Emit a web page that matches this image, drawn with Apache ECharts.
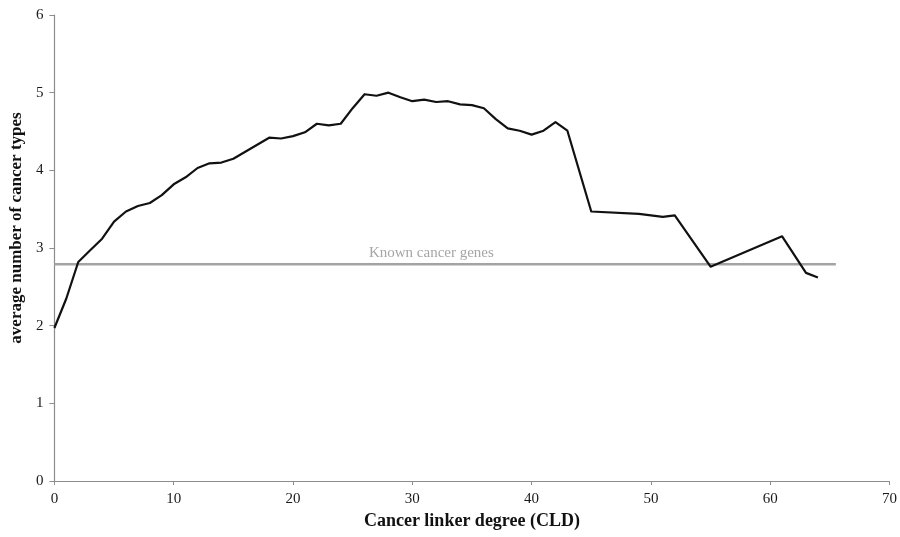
<!DOCTYPE html>
<html>
<head>
<meta charset="utf-8">
<script src="https://cdn.jsdelivr.net/npm/echarts@6/dist/echarts.min.js"></script>
<style>
  html, body { margin: 0; padding: 0; background: #fff; }
  #chart { width: 900px; height: 537px; }
</style>
</head>
<body>
<div id="chart"></div>
<script>
// Cancer linker degree (CLD) and the average number of cancer types per degree
const cld = [0, 1, 2, 3, 4, 5, 6, 7, 8, 9, 10, 11, 12, 13, 14, 15, 16, 17, 18, 19,
  20, 21, 22, 23, 24, 25, 26, 27, 28, 29, 30, 31, 32, 33, 34, 35, 36, 37, 38, 39,
  40, 41, 42, 43, 45, 49, 51, 52, 55, 61, 63, 64];
const avgTypes = [1.97, 2.35, 2.82, 2.97, 3.12, 3.34, 3.47, 3.54, 3.58, 3.68, 3.82, 3.91,
  4.03, 4.09, 4.10, 4.15, 4.24, 4.33, 4.42, 4.41, 4.44, 4.49, 4.60, 4.58, 4.60, 4.80,
  4.98, 4.96, 5.00, 4.94, 4.89, 4.91, 4.88, 4.89, 4.85, 4.84, 4.80, 4.66, 4.54, 4.51,
  4.46, 4.51, 4.62, 4.51, 3.47, 3.44, 3.40, 3.42, 2.76, 3.15, 2.68, 2.62];

// Reference level for known cancer genes
const knownLevel = 2.79;
const knownSpan = [0, 65.5];
const knownLabel = 'Known cancer genes';
const knownLabelAt = 31.6;

const xTicks = { min: 0, max: 70, interval: 10 };
const yTicks = { min: 0, max: 6, interval: 1 };

const serif = '"Liberation Serif", "DejaVu Serif", serif';
const axisGray = '#8c8c8c';

const chart = echarts.init(document.getElementById('chart'), null, { renderer: 'canvas' });

chart.setOption({
  animation: false,
  backgroundColor: '#ffffff',
  grid: { left: 53, right: 9, top: 15, bottom: 56 },
  xAxis: {
    type: 'value',
    min: xTicks.min, max: xTicks.max, interval: xTicks.interval,
    name: 'Cancer linker degree (CLD)',
    nameLocation: 'middle',
    nameGap: 31,
    nameTextStyle: { fontFamily: serif, fontWeight: 'bold', fontSize: 18, color: '#111' },
    axisLine: { show: true, lineStyle: { color: axisGray, width: 1.2 } },
    axisTick: { show: true, inside: false, length: 4, lineStyle: { color: axisGray } },
    axisLabel: { fontFamily: serif, fontSize: 15, color: '#1a1a1a', margin: 11 },
    splitLine: { show: false }
  },
  yAxis: {
    type: 'value',
    min: yTicks.min, max: yTicks.max, interval: yTicks.interval,
    name: 'average number of cancer types',
    nameLocation: 'middle',
    nameGap: 26,
    nameRotate: 90,
    nameTextStyle: { fontFamily: serif, fontWeight: 'bold', fontSize: 17, color: '#111', padding: [0, 0, 0, 40] },
    axisLine: { show: true, lineStyle: { color: axisGray, width: 1.2 } },
    axisTick: { show: true, inside: false, length: 5, lineStyle: { color: axisGray } },
    axisLabel: { fontFamily: serif, fontSize: 15, color: '#1a1a1a', margin: 11 },
    splitLine: { show: false }
  },
  series: [
    {
      name: knownLabel,
      type: 'line',
      data: knownSpan.map(x => [x, knownLevel]),
      symbol: 'none',
      lineStyle: { color: '#a3a3a3', width: 2.5 },
      z: 2
    },
    {
      name: 'label',
      type: 'scatter',
      data: [[knownLabelAt, knownLevel]],
      symbolSize: 0,
      label: {
        show: true,
        position: 'top',
        distance: 4,
        formatter: knownLabel,
        fontFamily: serif,
        fontSize: 15,
        color: '#8e8e8e'
      },
      silent: true,
      z: 3
    },
    {
      name: 'CLD',
      type: 'line',
      data: cld.map((x, i) => [x, avgTypes[i]]),
      symbol: 'none',
      lineStyle: { color: '#111111', width: 2.2, join: 'round' },
      z: 4
    }
  ]
});
</script>
</body>
</html>
